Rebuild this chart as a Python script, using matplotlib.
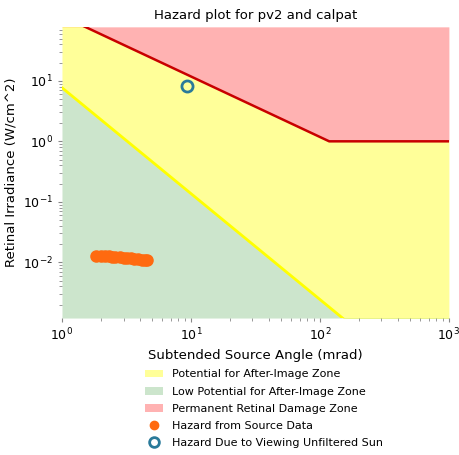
import matplotlib
matplotlib.use('Agg')
import matplotlib.pyplot as plt
from matplotlib.patches import Patch
from matplotlib.lines import Line2D

# threshold curves (subtended angle in mrad, retinal irradiance in W/cm^2)
angle = [1, 118, 1000]
burn = [118, 1, 1]
after_image = [7.7, 1.82e-3, 4.3e-5]

# hazard from source data
src_angle = [1.85, 2.0, 2.15, 2.3, 2.45, 2.6, 2.8, 3.0, 3.2, 3.4, 3.65, 3.9, 4.15, 4.4, 4.6]
src_irr = [0.0128, 0.0127, 0.0126, 0.0125, 0.0124, 0.0122, 0.0121, 0.0119, 0.0118, 0.0116, 0.0114, 0.0112, 0.0110, 0.0109, 0.0108]

# unfiltered sun
sun_angle = [9.4]
sun_irr = [8.2]

top = 78
bottom = 0.0012

fig = plt.figure(figsize=(4.59, 4.55), dpi=100)
ax = fig.add_axes([0.135, 0.301, 0.843, 0.640])

ax.fill_between(angle, burn, top, color='red', alpha=0.3, lw=0)
ax.fill_between(angle, after_image, burn, color='yellow', alpha=0.4, lw=0)
ax.fill_between(angle, bottom, after_image, color='green', alpha=0.2, lw=0)
ax.plot(angle, burn, color='#c80000', lw=1.8)
ax.plot(angle, after_image, color='yellow', lw=2)

ax.plot(src_angle, src_irr, 'o', color='#ff6a10', ms=8, ls='none')
ax.plot(sun_angle, sun_irr, 'o', mfc='none', mec='#2a7a9a', mew=2, ms=8)

ax.set_xscale('log')
ax.set_yscale('log')
ax.set_xlim(1, 1000)
ax.set_ylim(bottom, top)
for s in ax.spines.values():
    s.set_visible(False)
ax.tick_params(which='both', color='#888888', labelsize=9)
ax.tick_params(which='major', length=3)
ax.tick_params(which='minor', length=2)

ax.set_title('Hazard plot for pv2 and calpat', fontsize=9.5)
ax.set_xlabel('Subtended Source Angle (mrad)', fontsize=9.5)
ax.set_ylabel('Retinal Irradiance (W/cm^2)', fontsize=9.5)

handles = [
    Patch(facecolor='yellow', alpha=0.4),
    Patch(facecolor='green', alpha=0.2),
    Patch(facecolor='red', alpha=0.3),
    Line2D([], [], marker='o', color='#ff6a10', ls='none', ms=6),
    Line2D([], [], marker='o', mfc='none', mec='#2a7a9a', mew=2, ls='none', ms=7),
]
labels = ['Potential for After-Image Zone', 'Low Potential for After-Image Zone',
          'Permanent Retinal Damage Zone', 'Hazard from Source Data',
          'Hazard Due to Viewing Unfiltered Sun']
fig.legend(handles, labels, loc='upper center', bbox_to_anchor=(0.575, 0.21),
           frameon=False, fontsize=8, labelspacing=0.65, handlelength=1.7)

fig.savefig('out.png', dpi=100)
